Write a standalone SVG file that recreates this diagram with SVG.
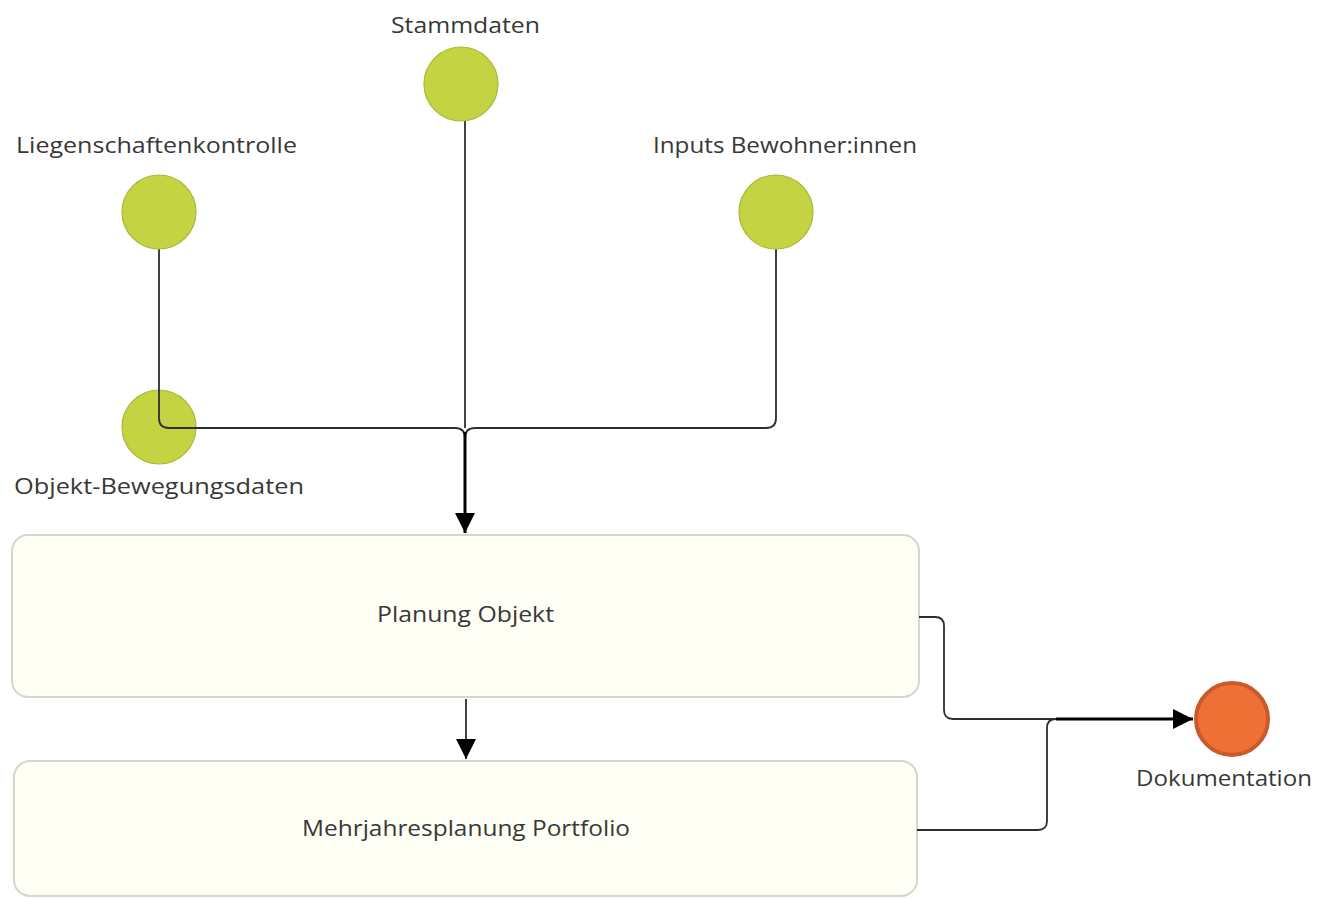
<svg xmlns="http://www.w3.org/2000/svg" width="1331" height="898" viewBox="0 0 1331 898">
  <defs>
    <style>
      .lbl { font-family: "Open Sans", "Liberation Sans", sans-serif; font-size: 21px; fill: #383838; }
      .src { fill: #c3d341; stroke: #a9b83a; stroke-width: 1.2; }
      .box { fill: #fffff6; stroke: #d6d6cc; stroke-width: 2; }
      .wire { fill: none; stroke: #2e2e2e; stroke-width: 1.8; }
      .wire-bold { fill: none; stroke: #000000; stroke-width: 3; }
    </style>
    <marker id="head" markerWidth="24" markerHeight="20" refX="20" refY="10" orient="auto" markerUnits="userSpaceOnUse">
      <path d="M0,0 L20,10 L0,20 Z" fill="#000000"/>
    </marker>
    <marker id="head-s" markerWidth="22" markerHeight="20" refX="20" refY="10" orient="auto" markerUnits="userSpaceOnUse">
      <path d="M0,0 L20,10 L0,20 Z" fill="#000000"/>
    </marker>
  </defs>

  <g id="node-planung">
    <rect class="box" x="12" y="535" width="907" height="162" rx="16"/>
    <text class="lbl" x="377" y="622" textLength="177" lengthAdjust="spacingAndGlyphs">Planung Objekt</text>
  </g>
  <g id="node-mehrjahr">
    <rect class="box" x="14" y="761" width="903" height="135" rx="16"/>
    <text class="lbl" x="302" y="836" textLength="328" lengthAdjust="spacingAndGlyphs">Mehrjahresplanung Portfolio</text>
  </g>

  <g id="node-bewegung">
    <circle class="src" cx="159" cy="427" r="37"/>
    <text class="lbl" x="14" y="494" textLength="290" lengthAdjust="spacingAndGlyphs">Objekt-Bewegungsdaten</text>
  </g>

  <g id="connectors">
    <!-- inputs merging into the planning box -->
    <path class="wire" d="M159,249 V418 Q159,428 169,428 H455 Q465,428 465,438"/>
    <path class="wire" d="M776,249 V418 Q776,428 766,428 H475 Q465,428 465,438"/>
    <path class="wire" d="M465,121 V428"/>
    <path class="wire-bold" d="M465,432 V533" marker-end="url(#head)"/>
    <!-- planning to portfolio -->
    <path class="wire" d="M466,699 V759" marker-end="url(#head-s)"/>
    <!-- both boxes to documentation -->
    <path class="wire" d="M919,617 H935 Q944,617 944,626 V710 Q944,719 953,719 H1060"/>
    <path class="wire" d="M917,830 H1038 Q1047,830 1047,821 V728 Q1047,719 1056,719"/>
    <path class="wire-bold" d="M1056,719 H1193" marker-end="url(#head)"/>
  </g>

  <g id="node-stammdaten">
    <circle class="src" cx="461" cy="84" r="37"/>
    <text class="lbl" x="391" y="33" textLength="149" lengthAdjust="spacingAndGlyphs">Stammdaten</text>
  </g>
  <g id="node-liegenschaften">
    <circle class="src" cx="159" cy="212" r="37"/>
    <text class="lbl" x="16" y="153" textLength="281" lengthAdjust="spacingAndGlyphs">Liegenschaftenkontrolle</text>
  </g>
  <g id="node-inputs">
    <circle class="src" cx="776" cy="212" r="37"/>
    <text class="lbl" x="653" y="153" textLength="264" lengthAdjust="spacingAndGlyphs">Inputs Bewohner:innen</text>
  </g>
  <g id="node-doku">
    <circle cx="1232" cy="719" r="36" fill="#ef7034" stroke="#c95a2a" stroke-width="4"/>
    <text class="lbl" x="1136" y="786" textLength="176" lengthAdjust="spacingAndGlyphs">Dokumentation</text>
  </g>
</svg>
